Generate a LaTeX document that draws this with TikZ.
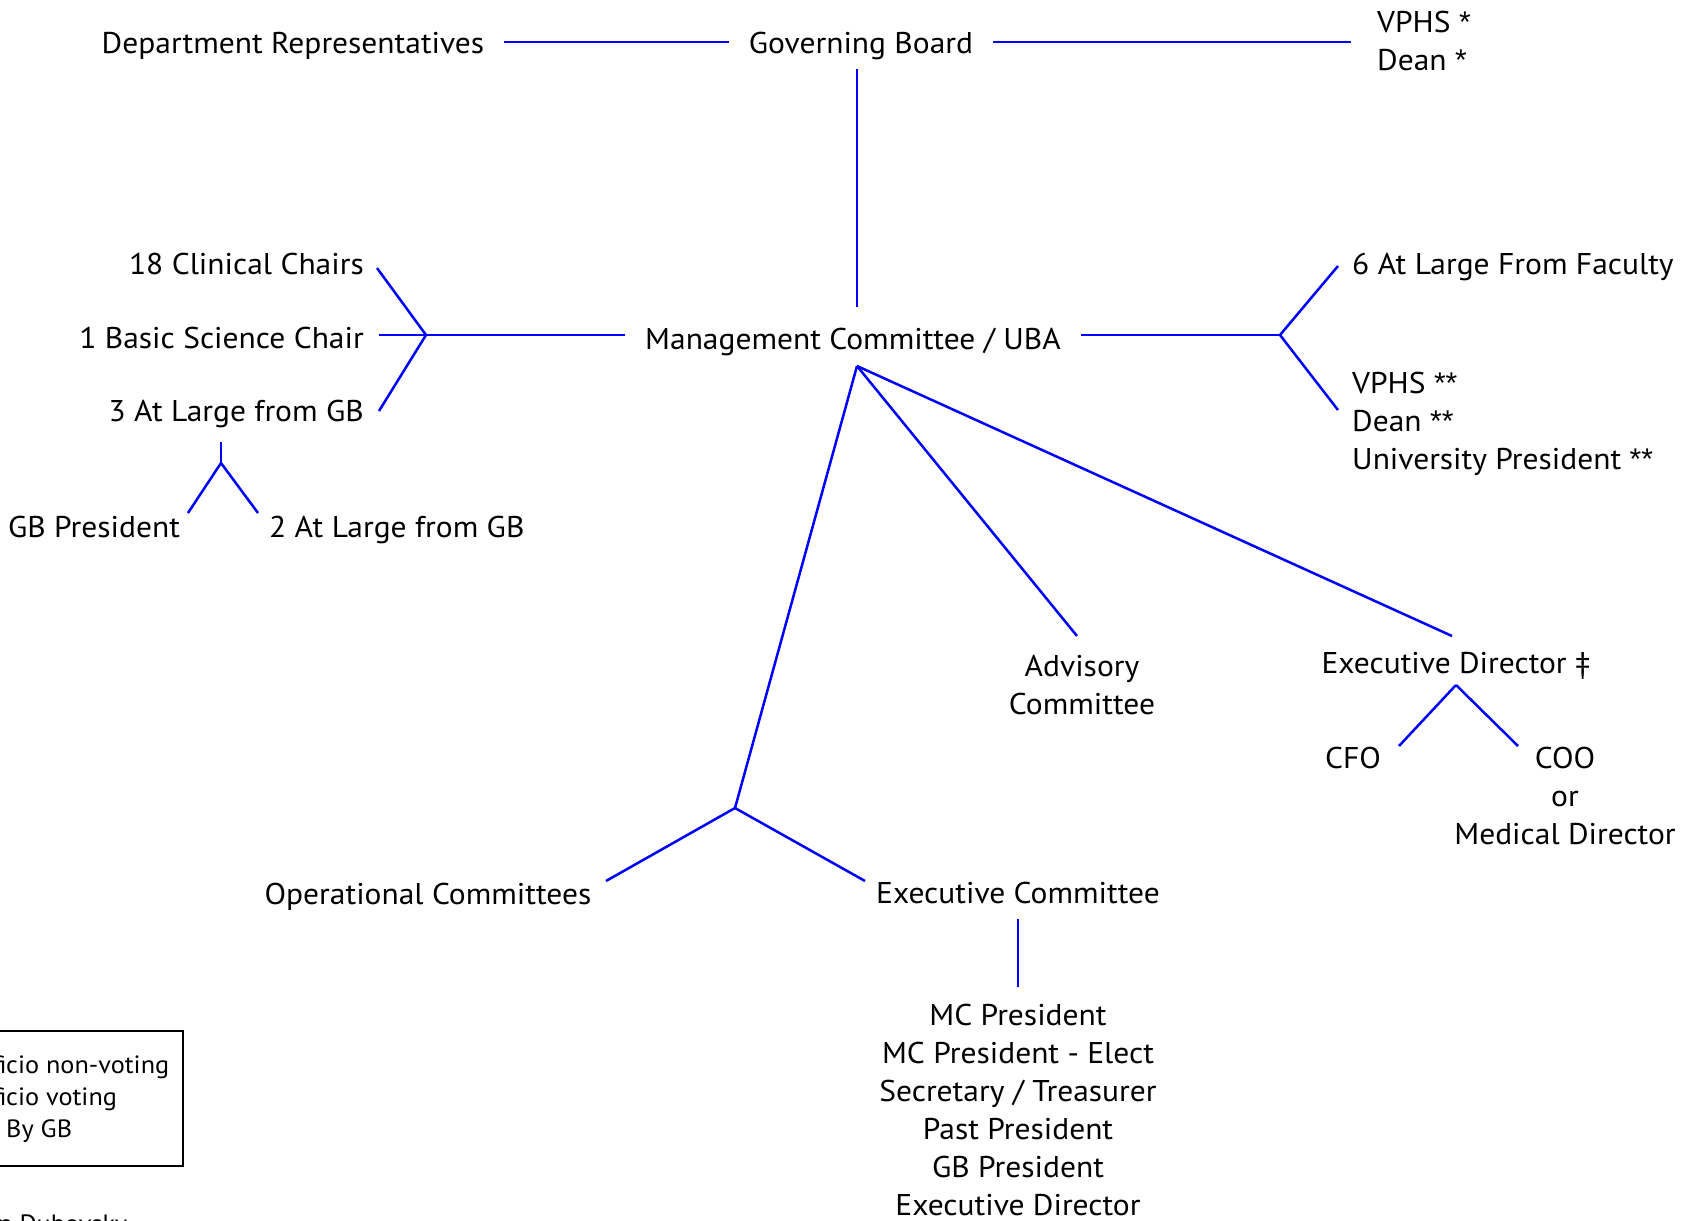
\documentclass[tikz,border=0pt]{standalone}
\usepackage{fontspec}
\setmainfont{PT Sans}[FakeStretch=1.05]
\newfontfamily\starfont{Liberation Sans}
\newcommand{\mk}[1]{{\starfont #1}}
\usetikzlibrary{positioning}

\begin{document}
\begin{tikzpicture}
[x=1pt, y=-1pt,
 lbl/.style={font=\fontsize{30}{38}\selectfont, text height=22pt, text depth=0pt,
             inner xsep=20pt, inner ysep=16pt, anchor=base},
 multi/.style={font=\fontsize{30}{38}\selectfont, inner sep=0pt},
 note/.style={font=\fontsize{25}{32}\selectfont, inner sep=0pt},
 link/.style={draw=blue, line width=2.5pt}]

\useasboundingbox (0,0) rectangle (1690,1221);

% Top row:
\node[lbl] (dept) at (293,53) {Department Representatives};
\node[lbl] (gb)   at (861,53) {Governing Board};
\node[multi, align=left, anchor=north west] (vpd) at (1377,11) {VPHS \mk{*}\\Dean \mk{*}};

\draw[link] (dept) -- (gb);
\draw[link] (gb.east) -- (1351,42) coordinate (vpdend);

% Management committee:
\node[lbl, inner ysep=20pt] (mc) at (853,349) {Management Committee / UBA};
\draw[link] (gb.south -| 857,0) -- (mc.north -| 857,0);

% Left branch:
\node[lbl, anchor=base east, inner xsep=14pt] (cc)  at (378,274) {18 Clinical Chairs};
\node[lbl, anchor=base east, inner xsep=14pt] (bsc) at (378,348) {1 Basic Science Chair};
\node[lbl, anchor=base east, inner xsep=14pt] (al3) at (378,421) {3 At Large from GB};
\coordinate (lfork) at (426,335);
\draw[link] (mc.west |- lfork) -- (lfork);
\draw[link] (lfork) -- (377,268) coordinate (ccend);
\draw[link] (lfork) -- (379,335) coordinate (bscend);
\draw[link] (lfork) -- (379,411) coordinate (al3end);

\node[lbl] (gbp) at (94,537)  {GB President};
\node[lbl, anchor=base west, inner xsep=0pt] (al2) at (269,537) {2 At Large from GB};
\coordinate (lsplit) at (221,463);
\draw[link] (221,442) -- (lsplit);
\draw[link] (lsplit) -- (188,513) coordinate (gbpend);
\draw[link] (lsplit) -- (258,513) coordinate (al2end);

% Right branch:
\node[lbl, anchor=base west, inner xsep=0pt] (fac) at (1352,274) {6 At Large From Faculty};
\node[multi, align=left, anchor=north west] (vdu) at (1352,372)
  {VPHS \mk{**}\\Dean \mk{**}\\University President \mk{**}};
\coordinate (rfork) at (1280,335);
\draw[link] (mc.east |- rfork) -- (rfork);
\draw[link] (rfork) -- (1338,266) coordinate (facend);
\draw[link] (rfork) -- (1338,410) coordinate (vduend);

% Lower branches from the committee:
\coordinate (mcb) at (857,366);
\node[multi, align=center, anchor=north] (adv) at (1082,655) {Advisory\\Committee};
\node[lbl] (ed) at (1456,673) {Executive Director ‡};
\draw[link] (mcb) -- (1077,636) coordinate (advend);
\draw[link] (mcb) -- (1452,636) coordinate (edend);
\draw[link] (mcb) -- (735,808) coordinate (csplit);

% Executive director:
\node[lbl, anchor=base west, inner xsep=0pt] (cfo) at (1325,768) {CFO};
\node[multi, align=center, anchor=north] (coo) at (1565,747) {COO\\or\\Medical Director};
\coordinate (esplit) at (1456,685);
\draw[link] (esplit) -- (1399,746) coordinate (cfoend);
\draw[link] (esplit) -- (1518,746) coordinate (cooend);

% Committees:
\node[lbl] (opc) at (428,904)  {Operational Committees};
\node[lbl] (exc) at (1018,903) {Executive Committee};
\draw[link] (csplit) -- (606,881) coordinate (opcend);
\draw[link] (csplit) -- (865,881) coordinate (excend);

\node[multi, align=center, anchor=north] (mem) at (1018,1004)
  {MC President\\MC President - Elect\\Secretary / Treasurer\\Past President\\GB President\\Executive Director};
\draw[link] (exc.south -| 1018,0) -- (1018,987) coordinate (memtop);

% Key:
\draw[line width=2.5pt] (-10,1031) rectangle (183,1166);
\node[note, align=left, anchor=north west] (key) at (6,1056)
  {\llap{\mk{*} Ex offi}cio non-voting\\\llap{\mk{**} Ex offi}cio voting\\ By GB};
\node[note, anchor=base west] (credit) at (-2,1232) {n Dubovsky};

\end{tikzpicture}
\end{document}
